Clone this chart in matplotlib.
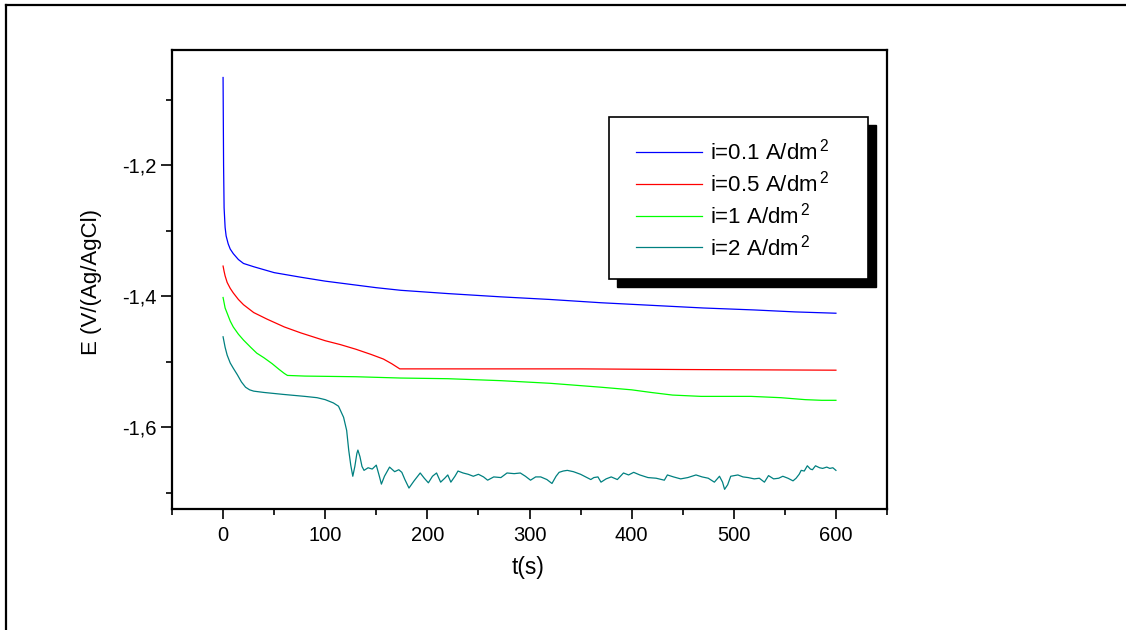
# IMPORT LIBRARY
import matplotlib
matplotlib.use("Agg")
import matplotlib.pyplot as plt
from matplotlib.lines import Line2D
from matplotlib.patches import Rectangle
from matplotlib.ticker import FixedLocator, FuncFormatter

plt.rcParams["font.family"] = ["Liberation Sans", "DejaVu Sans"]
plt.rcParams["mathtext.fontset"] = "custom"
plt.rcParams["mathtext.rm"] = "Liberation Sans"
plt.rcParams["mathtext.it"] = "Liberation Sans"

# DATA
blue_t = [0, 0.5, 1, 2, 3, 5, 7, 10, 15, 20, 30, 50, 76, 100, 125, 150, 174,
          220, 272, 320, 370, 420, 470, 520, 560, 600]
blue_E = [-1.066, -1.200, -1.265, -1.295, -1.308, -1.320, -1.328, -1.335, -1.344,
          -1.350, -1.355, -1.364, -1.371, -1.377, -1.382, -1.387, -1.391,
          -1.396, -1.401, -1.405, -1.410, -1.414, -1.418, -1.421, -1.424, -1.426]

red_t = [0, 1, 2, 4, 7, 10, 15, 20, 30, 43, 60, 76, 100, 115, 130, 145, 157,
         165, 170, 173, 180, 250, 350, 450, 600]
red_E = [-1.354, -1.362, -1.369, -1.379, -1.388, -1.395, -1.405, -1.413, -1.425,
         -1.435, -1.447, -1.456, -1.468, -1.474, -1.481, -1.489, -1.496,
         -1.503, -1.508, -1.511, -1.511, -1.511, -1.511, -1.512, -1.513]

green_t = [0, 1, 2, 4, 7, 10, 15, 20, 27, 33, 40, 48, 55, 60, 63, 80, 130, 174,
           220, 272, 320, 370, 400, 419, 440, 468, 500, 517, 546, 570, 586, 600]
green_E = [-1.402, -1.410, -1.418, -1.426, -1.438, -1.447, -1.458, -1.467, -1.478,
           -1.487, -1.494, -1.503, -1.512, -1.518, -1.521, -1.522, -1.523, -1.525,
           -1.526, -1.529, -1.533, -1.539, -1.543, -1.547, -1.551, -1.553, -1.553,
           -1.553, -1.555, -1.558, -1.559, -1.559]

teal_t = [0, 2, 4, 7, 10, 14, 18, 22, 26, 30, 40, 59, 80, 92, 100, 108, 113, 118,
          121, 123, 125, 127, 129, 131, 132, 134, 136, 138, 142, 146, 150, 153,
          155, 158, 163, 168, 172, 175, 178, 182, 187, 193, 197, 201, 205, 209,
          213, 217, 220, 223, 227, 230, 235, 240, 245, 250, 255, 259, 265, 272,
          278, 285, 291, 296, 301, 306, 311, 317, 322, 326, 329, 333, 337, 343,
          350, 355, 360, 363, 367, 370, 375, 380, 386, 392, 397, 402, 408, 416,
          424, 432, 435, 441, 448, 455, 463, 469, 475, 481, 486, 489, 491, 494,
          497, 504, 509, 514, 520, 525, 530, 534, 539, 544, 548, 553, 558, 561,
          564, 566, 569, 572, 575, 577, 580, 584, 587, 591, 594, 597, 600]
teal_E = [-1.462, -1.478, -1.490, -1.502, -1.510, -1.520, -1.531, -1.539, -1.543,
          -1.545, -1.547, -1.550, -1.553, -1.555, -1.558, -1.563, -1.568, -1.585,
          -1.605, -1.635, -1.658, -1.675, -1.660, -1.640, -1.635, -1.645, -1.660,
          -1.666, -1.662, -1.664, -1.658, -1.675, -1.687, -1.675, -1.661, -1.668,
          -1.665, -1.669, -1.680, -1.693, -1.682, -1.670, -1.678, -1.685, -1.675,
          -1.670, -1.684, -1.678, -1.673, -1.684, -1.675, -1.667, -1.670, -1.672,
          -1.675, -1.672, -1.676, -1.681, -1.676, -1.677, -1.670, -1.671, -1.670,
          -1.675, -1.681, -1.676, -1.676, -1.680, -1.686, -1.675, -1.669, -1.667,
          -1.666, -1.668, -1.672, -1.676, -1.680, -1.677, -1.676, -1.684, -1.679,
          -1.676, -1.680, -1.670, -1.673, -1.669, -1.673, -1.677, -1.678, -1.681,
          -1.673, -1.676, -1.679, -1.677, -1.673, -1.676, -1.678, -1.684, -1.675,
          -1.684, -1.695, -1.688, -1.675, -1.673, -1.676, -1.677, -1.679, -1.678,
          -1.684, -1.674, -1.679, -1.678, -1.675, -1.678, -1.682, -1.678, -1.672,
          -1.666, -1.667, -1.659, -1.664, -1.665, -1.659, -1.662, -1.663, -1.661,
          -1.663, -1.662, -1.666]

series = [
    (blue_t, blue_E, "#0000ff", r"i=0.1 A/dm$^{\,2}$"),
    (red_t, red_E, "#ff0000", r"i=0.5 A/dm$^{\,2}$"),
    (green_t, green_E, "#00ff00", r"i=1 A/dm$^{\,2}$"),
    (teal_t, teal_E, "#008080", r"i=2 A/dm$^{\,2}$"),
]

x_major = [0, 100, 200, 300, 400, 500, 600]
x_minor = [-50, 50, 150, 250, 350, 450, 550, 650]
y_major = [-1.2, -1.4, -1.6]
y_minor = [-1.1, -1.3, -1.5, -1.7]


# PLOT
W, H = 1126, 630
fig = plt.figure(figsize=(W / 100, H / 100), dpi=100)
fig.patch.set_facecolor("white")

ax = fig.add_axes([172 / W, 1 - 509 / H, (887 - 172) / W, (509 - 50) / H])

for t, e, c, lab in series:
    ax.plot(t, e, color=c, lw=0.9, label=lab)

ax.set_xlim(-50, 650)
ax.set_ylim(-1.725, -1.024)

ax.xaxis.set_major_locator(FixedLocator(x_major))
ax.xaxis.set_minor_locator(FixedLocator(x_minor))
ax.yaxis.set_major_locator(FixedLocator(y_major))
ax.yaxis.set_minor_locator(FixedLocator(y_minor))
ax.yaxis.set_major_formatter(FuncFormatter(lambda v, p: f"{v:.1f}".replace(".", ",")))

for s in ax.spines.values():
    s.set_linewidth(1.6)
ax.tick_params(which="major", direction="out", length=7, width=1.2,
               labelsize=14.5, top=False, right=False)
ax.tick_params(which="minor", direction="out", length=4, width=1.2,
               top=False, right=False)
ax.tick_params(axis="y", which="major", length=8, pad=3)
ax.tick_params(axis="x", which="major", pad=5)

ax.set_xlabel("t(s)", fontsize=16.5)
ax.xaxis.set_label_coords(0.498, -0.102)
ax.set_ylabel("E (V/(Ag/AgCl)", fontsize=16)
ax.yaxis.set_label_coords(-0.098, 0.495)

# Legend (Origin style box with black shadow)
lx0, ly0, lx1, ly1 = 609, 117, 868, 279
fig.add_artist(Rectangle(((lx0 + 8) / W, 1 - (ly1 + 8) / H), (lx1 - lx0) / W,
                         (ly1 - ly0) / H, transform=fig.transFigure,
                         facecolor="black", edgecolor="black", zorder=4.9))
fig.add_artist(Rectangle((lx0 / W, 1 - ly1 / H), (lx1 - lx0) / W, (ly1 - ly0) / H,
                         transform=fig.transFigure, facecolor="white",
                         edgecolor="black", lw=1.2, zorder=5))
row_y = [152, 183.5, 215.5, 247.5]
for (t, e, c, lab), ry in zip(series, row_y):
    fig.add_artist(Line2D([636 / W, 702 / W], [1 - ry / H, 1 - ry / H],
                          transform=fig.transFigure, color=c, lw=0.9, zorder=6))
    fig.text(710 / W, 1 - ry / H, lab, fontsize=16, ha="left", va="center",
             zorder=6)

# Outer frame (top and left edges)
fig.add_artist(Line2D([6 / W, 6 / W], [0, 1 - 5 / H], transform=fig.transFigure,
                      color="black", lw=1.6))
fig.add_artist(Line2D([6 / W, 1], [1 - 5 / H, 1 - 5 / H], transform=fig.transFigure,
                      color="black", lw=1.6))

fig.savefig("out.png", dpi=100)
